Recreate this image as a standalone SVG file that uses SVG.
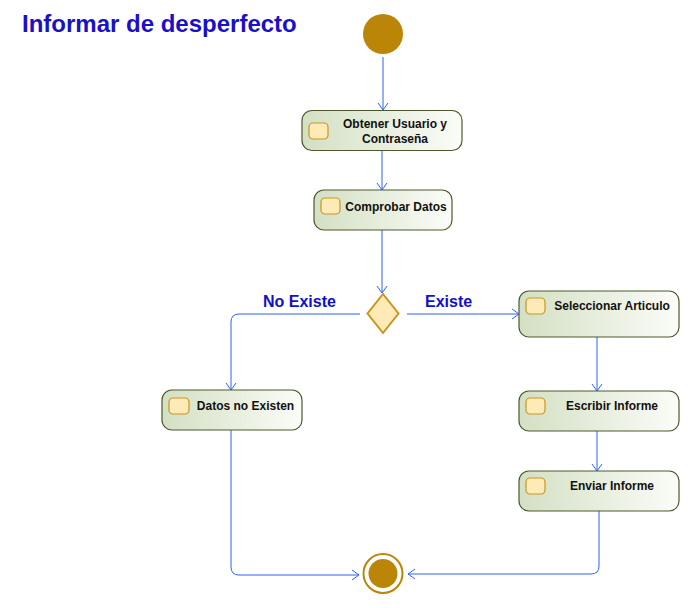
<svg xmlns="http://www.w3.org/2000/svg" width="690" height="608" viewBox="0 0 690 608">
<defs>
<linearGradient id="ng" x1="0" y1="0" x2="1" y2="0">
<stop offset="0" stop-color="#d3e0c3"/>
<stop offset="1" stop-color="#fbfcf8"/>
</linearGradient>
<marker id="arr" markerWidth="12" markerHeight="12" refX="10" refY="6" orient="auto" markerUnits="userSpaceOnUse">
<path d="M3,1 L10,6 L3,11" fill="none" stroke="#2f62f2" stroke-width="1"/>
</marker>
<style>
.node{fill:url(#ng);stroke:#4b5a2e;stroke-width:1.2}
.icon{fill:#fdeab7;stroke:#c9951f;stroke-width:1.2}
.lbl{font-family:"Liberation Sans",Arial,sans-serif;font-size:12px;font-weight:bold;fill:#111;text-anchor:middle}
.edge{fill:none;stroke:#2f62f2;stroke-width:1;marker-end:url(#arr)}
.guard{font-family:"Liberation Sans",Arial,sans-serif;font-size:16px;font-weight:bold;fill:#1010c8}
</style>
</defs>
<rect width="690" height="608" fill="#fff"/>
<text x="22" y="32" font-family="Liberation Sans,Arial,sans-serif" font-size="24" font-weight="bold" fill="#1a10c8">Informar de desperfecto</text>

<g id="connectors">
<path class="edge" d="M383,57 V110"/>
<path class="edge" d="M382,151 V190"/>
<path class="edge" d="M382,230 V293"/>
<path class="edge" d="M360,314 H239 Q231,314 231,322 V390"/>
<path class="edge" d="M407,314 H519"/>
<path class="edge" d="M597,337 V391"/>
<path class="edge" d="M597,431 V471"/>
<path class="edge" d="M599,511 V566 Q599,574 591,574 H408"/>
<path class="edge" d="M231,430 V567 Q231,575 239,575 H359"/>
</g>

<g id="start"><circle cx="383" cy="34" r="20" fill="#bb8508"/></g>

<g id="n1">
<rect class="node" x="302" y="110.5" width="160" height="40" rx="10"/>
<rect class="icon" x="309" y="123" width="19" height="16" rx="4"/>
<text class="lbl" x="395" y="128">Obtener Usuario y</text>
<text class="lbl" x="395" y="143">Contraseña</text>
</g>

<g id="n2">
<rect class="node" x="314" y="190" width="138" height="40" rx="10"/>
<rect class="icon" x="321" y="198" width="19" height="16" rx="4"/>
<text class="lbl" x="396" y="211">Comprobar Datos</text>
</g>

<g id="decision">
<polygon points="383,294 398.5,313.5 383,333 367.5,313.5" fill="#fdeab7" stroke="#c9951f" stroke-width="2"/>
</g>
<text class="guard" x="263" y="307">No Existe</text>
<text class="guard" x="425" y="307">Existe</text>

<g id="n3">
<rect class="node" x="162" y="390" width="140" height="40" rx="10"/>
<rect class="icon" x="169" y="398" width="20" height="16" rx="4"/>
<text class="lbl" x="245.5" y="410">Datos no Existen</text>
</g>

<g id="n4">
<rect class="node" x="519" y="291" width="160" height="46" rx="10"/>
<rect class="icon" x="526" y="298" width="19" height="16" rx="4"/>
<text class="lbl" x="612" y="310">Seleccionar Articulo</text>
</g>

<g id="n5">
<rect class="node" x="519" y="391" width="160" height="40" rx="10"/>
<rect class="icon" x="526" y="398" width="19" height="16" rx="4"/>
<text class="lbl" x="612" y="410">Escribir Informe</text>
</g>

<g id="n6">
<rect class="node" x="519" y="471" width="160" height="40" rx="10"/>
<rect class="icon" x="526" y="478" width="19" height="16" rx="4"/>
<text class="lbl" x="612" y="490">Enviar Informe</text>
</g>

<g id="end">
<circle cx="383" cy="573.5" r="19.5" fill="#fff" stroke="#bb8508" stroke-width="2"/>
<circle cx="383" cy="573.5" r="14.5" fill="#bb8508"/>
</g>
</svg>
